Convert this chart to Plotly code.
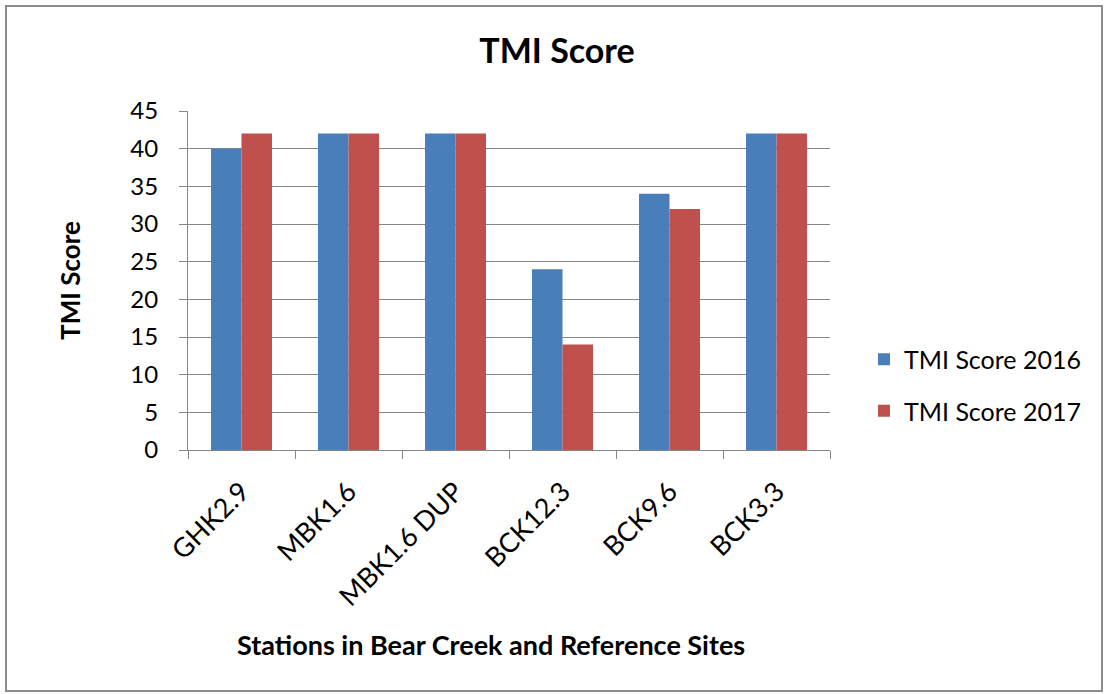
import plotly.graph_objects as go

stations = ["GHK2.9", "MBK1.6", "MBK1.6 DUP", "BCK12.3", "BCK9.6", "BCK3.3"]
score_2016 = [40, 42, 42, 24, 34, 42]
score_2017 = [42, 42, 42, 14, 32, 42]
y_ticks = [0, 5, 10, 15, 20, 25, 30, 35, 40, 45]

FONT = "Lato, 'Open Sans', Arial, sans-serif"

fig = go.Figure()
fig.add_trace(go.Bar(x=stations, y=score_2016, name="TMI Score 2016",
                     legendgroup="a",
                     marker=dict(color="#4A7EBB", line=dict(width=0))))
fig.add_trace(go.Bar(x=stations, y=score_2017, name="TMI Score 2017",
                     legendgroup="b",
                     marker=dict(color="#C0504D", line=dict(width=0))))

L, R, T, B = 188, 830, 111, 450
W, H = 1106, 694
pw, ph = R - L, B - T

def px(x):
    return (x - L) / pw

def py(y):
    return (B - y) / ph

fig.update_layout(
    width=W, height=H,
    margin=dict(l=L, r=W - R, t=T, b=H - B, autoexpand=False),
    paper_bgcolor="white", plot_bgcolor="white",
    barmode="group", bargap=0.43, bargroupgap=0,
    font=dict(family=FONT, color="#000000", size=20),
    title=dict(text="<b>TMI Score</b>", x=557 / W, xanchor="center",
               y=1 - 51 / H, yanchor="middle",
               font=dict(size=34, family=FONT)),
    showlegend=True,
    legend=dict(x=px(864), y=py(385), xanchor="left", yanchor="middle",
                font=dict(size=25, family=FONT), traceorder="grouped",
                tracegroupgap=16, itemwidth=30, bgcolor="rgba(0,0,0,0)"),
    xaxis=dict(
        type="category", tickangle=-45, tickson="boundaries",
        ticks="outside", ticklen=8, tickcolor="#868686",
        showline=True, linecolor="#868686", linewidth=1,
        showgrid=False, tickfont=dict(size=27, family=FONT),
        ticklabelstandoff=14,
        automargin=False,
    ),
    yaxis=dict(
        range=[0, 45], tickvals=y_ticks, ticks="outside", ticklen=8,
        tickcolor="#868686", showline=True, linecolor="#868686", linewidth=1,
        showgrid=True, gridcolor="#868686", gridwidth=1,
        zeroline=False, tickfont=dict(size=24, family=FONT),
        ticklabelstandoff=16,
        title=dict(text="<b>TMI Score</b>", font=dict(size=26, family=FONT),
                   standoff=42),
        automargin=False,
    ),
    annotations=[dict(text="<b>Stations in Bear Creek and Reference Sites</b>",
                      xref="paper", yref="paper", x=px(491), y=py(644),
                      xanchor="center", yanchor="middle", showarrow=False,
                      font=dict(size=27, family=FONT))],
    shapes=[dict(type="rect", xref="paper", yref="paper",
                 x0=px(6), x1=px(1102), y0=py(691), y1=py(6),
                 line=dict(color="#8C8C8C", width=2), layer="below")],
)

fig.write_html("out.html", config={"displayModeBar": False},
               post_script="document.body.style.margin='0';document.body.style.overflow='hidden';")
